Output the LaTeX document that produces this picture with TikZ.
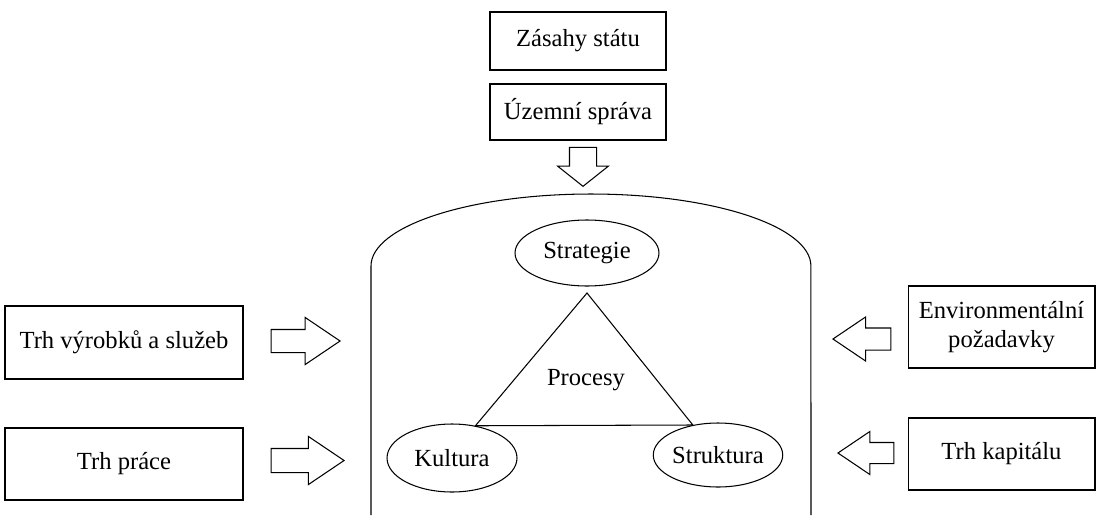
\documentclass[tikz,border=0pt]{standalone}
\usepackage{fontspec}
\setmainfont{Liberation Serif}
\usepackage{tikz}
\usetikzlibrary{shapes.geometric, shapes.arrows}

\begin{document}
\begin{tikzpicture} [x=0.02cm, y=0.02cm, line width=0.6pt,
        every node/.style={font=\fontsize{14}{16.5}\selectfont},
        box/.style={draw, align=center, inner sep=0pt},
        oval/.style={draw, ellipse, inner sep=0pt},
        flow/.style={draw, single arrow, anchor=tip, inner xsep=0pt,
            single arrow tip angle=68, single arrow head extend=0.24cm}]

        \useasboundingbox (0,0) rectangle (1098,515);

        % state influences on top
        \node (zasahy) [box, minimum width=3.52cm, minimum height=1.16cm] at (578,474) {Zásahy státu};
        \node (sprava) [box, minimum width=3.52cm, minimum height=1.12cm] at (578,403) {Územní správa};
        \node (down) [flow, inner xsep=0.26cm, inner ysep=0pt, minimum height=0.78cm, single arrow tip angle=103,
            shape border rotate=270] at (583,328) {};

        % the enterprise
        \draw (371,0) -- (371,249) arc [start angle=180, end angle=0, x radius=4.4cm, y radius=1.44cm]
            -- (811,0);

        \node (strat) [oval, minimum width=2.88cm, minimum height=1.32cm] at (587,262) {Strategie};
        \node (kult) [oval, minimum width=2.6cm, minimum height=1.36cm] at (452,57) {Kultura};
        \node (strukt) [oval, minimum width=2.48cm, minimum height=1.28cm] at (718,60) {Struktura};
        \coordinate (apex) at (587,222);
        \draw (kult.54) -- (apex) -- (strukt.130) -- cycle;
        \node (proc) at (586,135) {Procesy};

        % markets on the left
        \node (vyrobky) [box, minimum width=4.76cm, minimum height=1.46cm] at (124,172.5) {Trh výrobků a služeb};
        \node (prace) [box, minimum width=4.76cm, minimum height=1.44cm] at (124,51) {Trh práce};
        \node (ar1) [flow, inner ysep=0.22cm, minimum height=1.38cm] at (341,174) {};
        \node (ar2) [flow, inner ysep=0.23cm, minimum height=1.46cm] at (345,54.5) {};

        % demands on the right
        \node (env) [box, minimum width=3.74cm, minimum height=1.64cm] at (1001.5,188) {Environmentální\\požadavky};
        \node (kapital) [box, minimum width=3.74cm, minimum height=1.44cm] at (1001.5,61) {Trh kapitálu};
        \node (al1) [flow, inner ysep=0.21cm, minimum height=1.16cm, single arrow head extend=0.22cm,
            shape border rotate=180] at (832,176) {};
        \node (al2) [flow, inner ysep=0.2cm, minimum height=1.12cm, single arrow head extend=0.22cm,
            shape border rotate=180] at (837,62) {};

\end{tikzpicture}
\end{document}
